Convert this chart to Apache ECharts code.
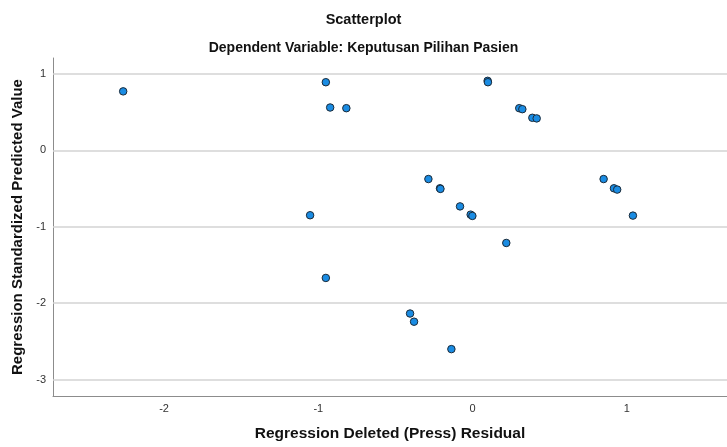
<!DOCTYPE html>
<html>
<head>
<meta charset="utf-8">
<script src="https://cdn.jsdelivr.net/npm/echarts@6/dist/echarts.min.js"></script>
<style>html,body{margin:0;padding:0;background:#fff}#c{width:727px;height:447px}</style>
</head>
<body>
<div id="c"></div>
<script>
// Regression Deleted (Press) Residual
var residuals = [-2.265, -0.951, -0.923, -0.818, 0.098, 0.100, 0.303, 0.323, 0.388, 0.416,
  -0.286, -0.211, -0.208, -0.081, -0.012, -0.001, -1.053, 0.850, 0.917, 0.938,
  1.040, 0.219, -0.951, -0.405, -0.379, -0.137];
// Regression Standardized Predicted Value
var predicted = [0.773, 0.893, 0.562, 0.553, 0.911, 0.893, 0.553, 0.540, 0.427, 0.419,
  -0.375, -0.496, -0.504, -0.733, -0.841, -0.858, -0.849, -0.375, -0.496, -0.513,
  -0.854, -1.212, -1.670, -2.136, -2.243, -2.602];
var xTicks = [-2, -1, 0, 1];
var yTicks = [-3, -2, -1, 0, 1];
var titleText = 'Scatterplot';
var subtitleText = 'Dependent Variable: Keputusan Pilihan Pasien';
var xName = 'Regression Deleted (Press) Residual';
var yName = 'Regression Standardized Predicted Value';

var pts = residuals.map(function (x, i) { return [x, predicted[i]]; });
var font = 'Liberation Sans, Arial, sans-serif';
var chart = echarts.init(document.getElementById('c'), null, {renderer: 'canvas'});
chart.setOption({
  animation: false,
  backgroundColor: '#fff',
  title: {
    text: titleText, subtext: subtitleText, left: 'center', top: 7, itemGap: 14,
    textStyle: {fontFamily: font, fontSize: 14.5, fontWeight: 'bold', color: '#111'},
    subtextStyle: {fontFamily: font, fontSize: 14, fontWeight: 'bold', color: '#111'}
  },
  grid: {left: 53, right: 0, top: 58, bottom: 47, containLabel: false},
  xAxis: {
    type: 'value', min: -2.72, max: 1.65,
    name: xName, nameLocation: 'middle', nameGap: 30,
    nameTextStyle: {fontFamily: font, fontSize: 15.5, fontWeight: 'bold', color: '#111'},
    axisLine: {show: true, onZero: false, lineStyle: {color: '#8c8c8c', width: 1}},
    axisTick: {show: false},
    splitLine: {show: false},
    axisLabel: {customValues: xTicks, fontFamily: font, fontSize: 11, color: '#333', margin: 7}
  },
  yAxis: {
    type: 'value', min: -3.216, max: 1.21,
    name: yName, nameLocation: 'middle', nameGap: 28,
    nameTextStyle: {fontFamily: font, fontSize: 15, fontWeight: 'bold', color: '#111'},
    axisLine: {show: true, onZero: false, lineStyle: {color: '#8c8c8c', width: 1}},
    axisTick: {show: false},
    splitLine: {show: false},
    axisLabel: {customValues: yTicks, fontFamily: font, fontSize: 11, color: '#333', margin: 7}
  },
  series: [{
    type: 'scatter',
    data: pts,
    symbol: 'circle',
    symbolSize: 7.5,
    itemStyle: {color: '#1a8ce3', borderColor: '#1b2a38', borderWidth: 1, opacity: 1},
    markLine: {
      silent: true, symbol: ['none', 'none'], animation: false,
      label: {show: false},
      lineStyle: {color: '#d3d3d3', width: 1.5, type: 'solid'},
      data: yTicks.map(function (v) { return {yAxis: v}; })
    },
    z: 3
  }]
});
</script>
</body>
</html>
